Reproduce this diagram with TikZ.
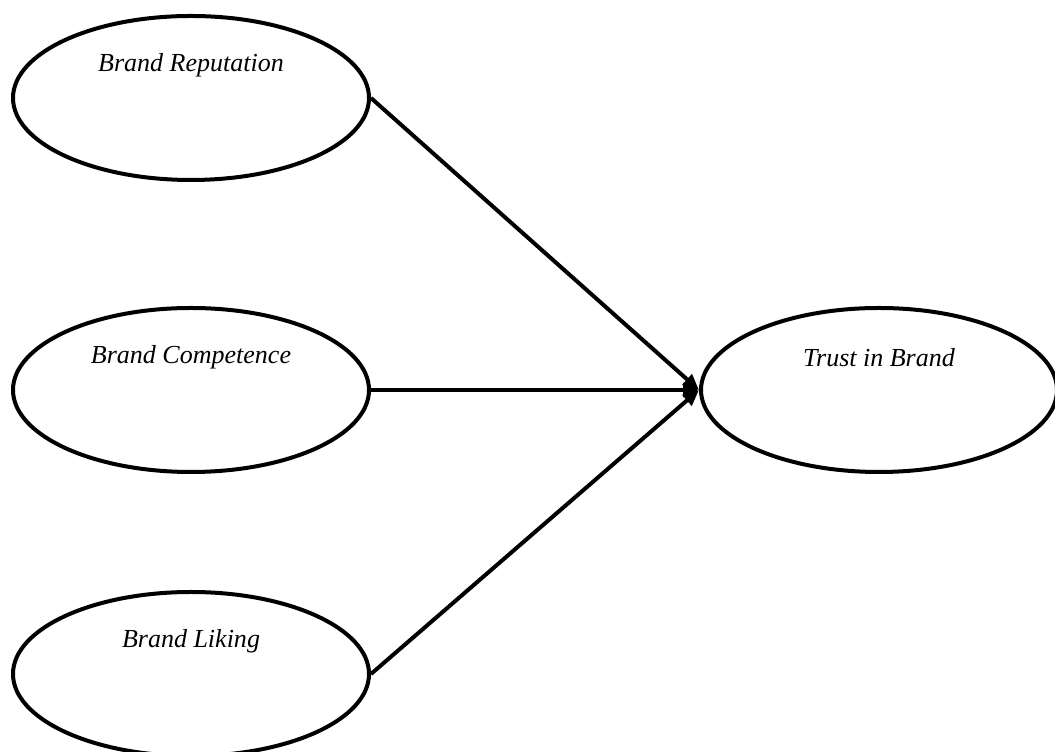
\documentclass[tikz,border=0pt]{standalone}
\usepackage{fontspec}
\setmainfont{Liberation Serif}
\usetikzlibrary{positioning, arrows.meta, shapes.geometric}

\begin{document}
\begin{tikzpicture}[->, >={Triangle[length=0.4cm, width=0.34cm]}, line width=0.1cm,
    latent/.style={ellipse, draw, minimum width=8.9cm, minimum height=4.1cm},
    lbl/.style={font=\fontsize{18.5}{22}\selectfont\itshape, yshift=0.82cm}]
      \useasboundingbox (0,0) rectangle (26.375,18.8);
      \node[latent, label={[lbl]center:Brand Reputation}] (rep) at (4.775,16.35) {};
      \node[latent, label={[lbl]center:Brand Competence}] (comp) [below=3.1cm of rep] {};
      \node[latent, label={[lbl]center:Brand Liking}] (lik) [below=2.9cm of comp] {};
      \node[latent, label={[lbl]center:Trust in Brand}] (trust) [right=8.2cm of comp] {};

      \draw (rep.east) -- (trust.west);
      \draw (comp.east) -- (trust.west);
      \draw (lik.east) -- (trust.west);
    \end{tikzpicture}
\end{document}
